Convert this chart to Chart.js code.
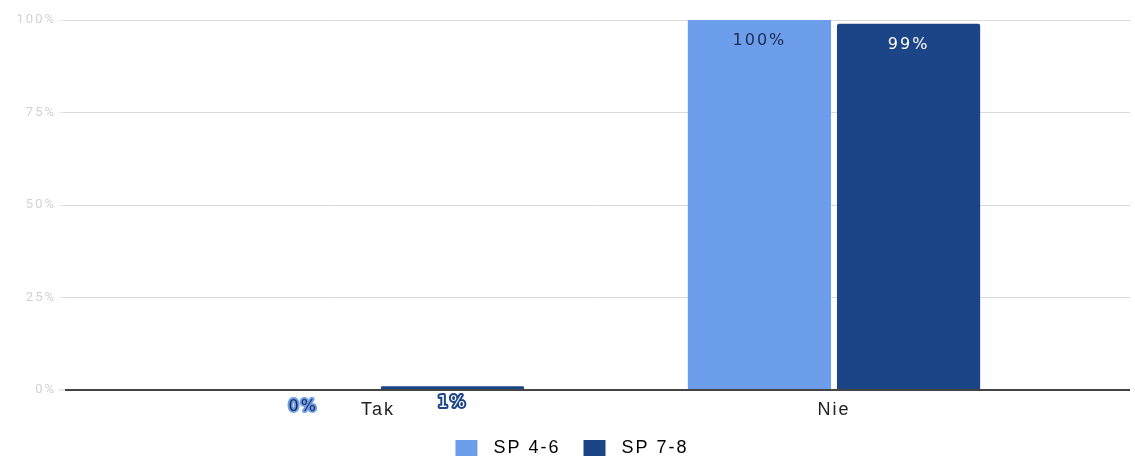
<!DOCTYPE html>
<html>
<head>
    <meta charset="UTF-8">
    <title>Tak / Nie</title>
    <script src="https://cdn.jsdelivr.net/npm/chart.js"></script>
    <style>
        html, body { margin: 0; padding: 0; background: #fff; }
        #wrap { width: 1135px; height: 457px; }
    </style>
</head>
<body>
    <div id="wrap"><canvas id="chart"></canvas></div>

    <script>
        // data
        const categories = ['Tak', 'Nie'];
        const seriesNames = ['SP 4-6', 'SP 7-8'];
        const sp46 = [0, 100];
        const sp78 = [1, 99];
        const yTicks = [0, 25, 50, 75, 100];

        const colors = ['#6d9eeb', '#1c4587'];
        const labelText = ['#1d2b4f', '#ffffff'];

        // the source picture has rather wide text, fake it with letter spacing
        const wideText = {
            id: 'wideText',
            beforeLayout(chart) { chart.ctx.letterSpacing = '2px'; },
            beforeDraw(chart) { chart.ctx.letterSpacing = '2px'; }
        };

        // value labels drawn at each bar's own position
        const barLabels = {
            id: 'barLabels',
            afterDatasetsDraw(chart) {
                const ctx = chart.ctx;
                ctx.save();
                ctx.font = '16px "DejaVu Sans", Verdana, sans-serif';
                ctx.textAlign = 'center';
                ctx.textBaseline = 'middle';
                ctx.lineJoin = 'round';
                chart.data.datasets.forEach((ds, di) => {
                    chart.getDatasetMeta(di).data.forEach((bar, i) => {
                        const txt = ds.data[i].y + '%';
                        const y = bar.y + (bar.base - bar.y > 30 ? 21 : 17);
                        ctx.lineWidth = 4;
                        ctx.strokeStyle = colors[di];
                        ctx.strokeText(txt, bar.x, y);
                        ctx.fillStyle = labelText[di];
                        ctx.fillText(txt, bar.x, y);
                    });
                });
                ctx.restore();
            }
        };

        const toPoints = vals => categories.map((c, i) => ({ x: i, y: vals[i] }));

        new Chart(document.getElementById('chart'), {
            type: 'bar',
            data: {
                datasets: [
                    { label: seriesNames[0], data: toPoints(sp46), backgroundColor: colors[0] },
                    { label: seriesNames[1], data: toPoints(sp78), backgroundColor: colors[1], borderRadius: { topLeft: 2, topRight: 2 } }
                ]
            },
            options: {
                responsive: true,
                maintainAspectRatio: false,
                animation: false,
                categoryPercentage: 0.654,
                barPercentage: 0.96,
                layout: { padding: { top: 20, right: 5, left: 14, bottom: -10 } },
                plugins: {
                    tooltip: { enabled: false },
                    legend: {
                        position: 'bottom',
                        labels: {
                            boxWidth: 22,
                            boxHeight: 16,
                            padding: 2,
                            color: '#666',
                            font: { family: '"Liberation Sans", Arial, sans-serif', size: 18 },
                            generateLabels: chart => chart.data.datasets.map((ds, i) => ({
                                text: ' ' + ds.label + (i === 0 ? '   ' : ''),
                                fillStyle: ds.backgroundColor,
                                strokeStyle: ds.backgroundColor,
                                lineWidth: 0,
                                datasetIndex: i,
                                hidden: false
                            }))
                        }
                    }
                },
                scales: {
                    x: {
                        type: 'linear',
                        offset: false,
                        min: -0.686,
                        max: 1.649,
                        grid: { display: false, drawTicks: false, offset: false },
                        border: { display: false },
                        afterBuildTicks: s => { s.ticks = categories.map((c, i) => ({ value: i })); },
                        afterFit: s => { s.height = 47; },
                        ticks: {
                            padding: 9,
                            color: '#222',
                            font: { family: '"Liberation Sans", Arial, sans-serif', size: 18 },
                            callback: v => categories[v]
                        }
                    },
                    y: {
                        min: 0,
                        max: 100,
                        afterBuildTicks: s => { s.ticks = yTicks.map(v => ({ value: v })); },
                        afterFit: s => { s.width = 51; },
                        border: { display: false },
                        grid: {
                            color: c => c.tick && c.tick.value === 0 ? '#444' : '#d9d9d9',
                            lineWidth: c => c.tick && c.tick.value === 0 ? 2 : 1,
                            tickLength: 6,
                            tickColor: '#e6e6e6'
                        },
                        ticks: {
                            padding: 3,
                            color: '#d2d2d2',
                            font: { family: 'Roboto, sans-serif', size: 13 },
                            callback: v => v + '%'
                        }
                    }
                }
            },
            plugins: [wideText, barLabels]
        });
    </script>
</body>
</html>
